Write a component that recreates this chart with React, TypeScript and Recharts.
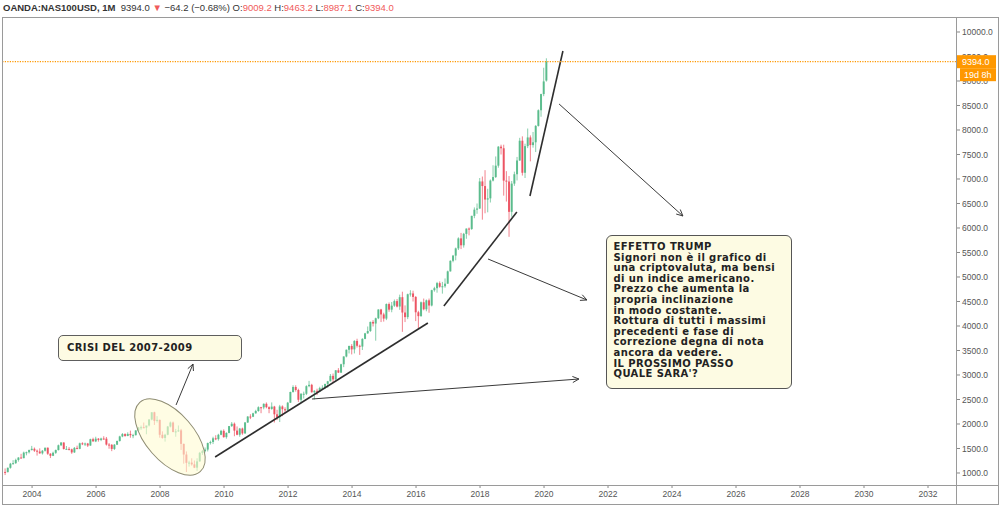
import React from "react";
import { ComposedChart, Bar, XAxis, YAxis, ReferenceLine, ReferenceDot } from "recharts";

const UP = "#53b987";
const DOWN = "#eb4d5c";
const RED_TXT = "#f05b5b";

// monthly candles, [open, high, low, close]
const y2003 = [
  [1022, 1093, 958, 1018], [1018, 1111, 1012, 1106], [1106, 1206, 1088, 1189], [1189, 1262, 1170, 1201],
  [1201, 1292, 1185, 1266], [1266, 1322, 1232, 1315], [1315, 1391, 1300, 1303], [1303, 1436, 1300, 1416],
  [1416, 1437, 1360, 1424], [1424, 1478, 1398, 1468],
];
const y2004 = [
  [1468, 1553, 1460, 1494], [1494, 1520, 1430, 1455], [1455, 1478, 1355, 1438], [1438, 1503, 1392, 1401],
  [1401, 1469, 1377, 1454], [1454, 1516, 1437, 1516], [1516, 1520, 1370, 1394], [1394, 1404, 1305, 1351],
  [1351, 1435, 1345, 1412], [1412, 1479, 1390, 1468], [1468, 1580, 1460, 1566], [1566, 1630, 1549, 1622],
];
const y2005 = [
  [1622, 1626, 1478, 1490], [1490, 1550, 1480, 1492], [1492, 1528, 1460, 1483], [1483, 1497, 1391, 1420],
  [1420, 1530, 1410, 1512], [1512, 1558, 1483, 1493], [1493, 1620, 1485, 1606], [1606, 1627, 1569, 1592],
  [1592, 1620, 1550, 1601], [1601, 1614, 1530, 1560], [1560, 1700, 1555, 1690], [1690, 1720, 1640, 1645],
];
const y2006 = [
  [1645, 1740, 1630, 1700], [1700, 1714, 1640, 1675], [1675, 1720, 1650, 1703], [1703, 1750, 1680, 1700],
  [1700, 1735, 1560, 1580], [1580, 1610, 1495, 1575], [1575, 1590, 1446, 1491], [1491, 1590, 1470, 1578],
  [1578, 1660, 1570, 1654], [1654, 1760, 1640, 1746], [1746, 1815, 1730, 1794], [1794, 1810, 1740, 1756],
];
const y2007 = [
  [1756, 1830, 1750, 1797], [1797, 1865, 1720, 1771], [1771, 1800, 1710, 1772], [1772, 1875, 1765, 1868],
  [1868, 1935, 1850, 1929], [1929, 1968, 1880, 1934], [1934, 2030, 1915, 1926], [1926, 1960, 1790, 1970],
  [1970, 2100, 1950, 2091], [2091, 2240, 2075, 2239], [2239, 2250, 1980, 2063], [2063, 2160, 2030, 2084],
];
const y2008 = [
  [2084, 2090, 1720, 1780], [1780, 1850, 1700, 1715], [1715, 1800, 1640, 1781], [1781, 1960, 1770, 1948],
  [1948, 2050, 1930, 2030], [2030, 2050, 1830, 1837], [1837, 1900, 1740, 1849], [1849, 1970, 1840, 1870],
  [1870, 1900, 1470, 1594], [1594, 1600, 1190, 1377], [1377, 1440, 1020, 1208], [1208, 1250, 1130, 1212],
];
const y2009 = [
  [1212, 1300, 1150, 1176], [1176, 1255, 1100, 1109], [1109, 1300, 1043, 1237], [1237, 1430, 1230, 1411],
  [1411, 1470, 1370, 1445], [1445, 1520, 1420, 1478], [1478, 1620, 1440, 1611], [1611, 1660, 1580, 1633],
  [1633, 1740, 1590, 1708], [1708, 1770, 1670, 1691], [1691, 1800, 1660, 1780], [1780, 1880, 1770, 1860],
];
const y2010 = [
  [1860, 1890, 1720, 1732], [1732, 1830, 1700, 1818], [1818, 1960, 1810, 1957], [1957, 2040, 1940, 2005],
  [2005, 2030, 1750, 1865], [1865, 1950, 1770, 1781], [1781, 1920, 1740, 1907], [1907, 1925, 1780, 1808],
  [1808, 2040, 1800, 2031], [2031, 2160, 2020, 2152], [2152, 2200, 2100, 2148], [2148, 2230, 2140, 2218],
];
const y2011 = [
  [2218, 2290, 2210, 2265], [2265, 2360, 2250, 2342], [2342, 2350, 2220, 2338], [2338, 2420, 2300, 2412],
  [2412, 2440, 2320, 2343], [2343, 2360, 2220, 2307], [2307, 2440, 2290, 2355], [2355, 2370, 2030, 2198],
  [2198, 2290, 2080, 2139], [2139, 2390, 2040, 2358], [2358, 2380, 2160, 2302], [2302, 2340, 2220, 2278],
];
const y2012 = [
  [2278, 2450, 2270, 2435], [2435, 2660, 2430, 2653], [2653, 2790, 2640, 2755], [2755, 2790, 2660, 2694],
  [2694, 2720, 2450, 2494], [2494, 2630, 2440, 2616], [2616, 2660, 2520, 2617], [2617, 2790, 2590, 2772],
  [2772, 2880, 2750, 2799], [2799, 2820, 2640, 2648], [2648, 2690, 2500, 2677], [2677, 2720, 2590, 2661],
];
const y2013 = [
  [2661, 2760, 2660, 2732], [2732, 2790, 2700, 2739], [2739, 2820, 2720, 2818], [2818, 2880, 2740, 2871],
  [2871, 3020, 2870, 2982], [2982, 3030, 2850, 2910], [2910, 3100, 2900, 3096], [3096, 3140, 3040, 3049],
  [3049, 3230, 3040, 3219], [3219, 3380, 3160, 3378], [3378, 3520, 3360, 3515], [3515, 3600, 3440, 3592],
];
const y2014 = [
  [3592, 3630, 3420, 3523], [3523, 3710, 3440, 3695], [3695, 3740, 3560, 3596], [3596, 3620, 3410, 3580],
  [3580, 3750, 3510, 3737], [3737, 3860, 3730, 3850], [3850, 3990, 3840, 3897], [3897, 4090, 3880, 4083],
  [4083, 4120, 3990, 4050], [4050, 4170, 3700, 4158], [4158, 4340, 4140, 4337], [4337, 4350, 4080, 4236],
];
const y2015 = [
  [4236, 4270, 4090, 4151], [4151, 4460, 4120, 4448], [4448, 4480, 4290, 4334], [4334, 4490, 4280, 4415],
  [4415, 4540, 4390, 4508], [4508, 4550, 4380, 4397], [4397, 4640, 4330, 4588], [4588, 4700, 3880, 4275],
  [4275, 4420, 4080, 4181], [4181, 4660, 4140, 4648], [4648, 4730, 4600, 4664], [4664, 4720, 4500, 4593],
];
const y2016 = [
  [4593, 4610, 4100, 4280], [4280, 4310, 3950, 4201], [4201, 4500, 4190, 4484], [4484, 4560, 4320, 4341],
  [4341, 4540, 4300, 4524], [4524, 4560, 4270, 4418], [4418, 4740, 4400, 4731], [4731, 4800, 4700, 4771],
  [4771, 4900, 4680, 4875], [4875, 4910, 4780, 4801], [4801, 4900, 4660, 4811], [4811, 4970, 4780, 4864],
];
const y2017 = [
  [4864, 5130, 4860, 5115], [5115, 5340, 5110, 5330], [5330, 5450, 5300, 5436], [5436, 5600, 5340, 5584],
  [5584, 5810, 5550, 5788], [5788, 5900, 5570, 5647], [5647, 5900, 5600, 5880], [5880, 5990, 5780, 5988],
  [5988, 6010, 5850, 5980], [5980, 6250, 5960, 6248], [6248, 6420, 6200, 6374], [6374, 6500, 6290, 6397],
];
const y2018 = [
  [6397, 7020, 6390, 6950], [6950, 7050, 6170, 6856], [6856, 7180, 6300, 6581], [6581, 6800, 6320, 6605],
  [6605, 6990, 6520, 6968], [6968, 7280, 6950, 7040], [7040, 7460, 7020, 7272], [7272, 7670, 7230, 7660],
  [7660, 7700, 7500, 7627], [7627, 7700, 6660, 6967], [6967, 7160, 6540, 6949], [6949, 7060, 5820, 6330],
];
const y2019 = [
  [6330, 6960, 6230, 6906], [6906, 7150, 6860, 7097], [7097, 7450, 6970, 7378], [7378, 7840, 7370, 7781],
  [7781, 7870, 7070, 7127], [7127, 7720, 7020, 7671], [7671, 8030, 7630, 7848], [7848, 7890, 7360, 7692],
  [7692, 7960, 7640, 7749], [7749, 8100, 7550, 8083], [8083, 8420, 8070, 8403], [8403, 8740, 8270, 8733],
];
const y2020 = [
  [8733, 9270, 8690, 8991], [9009.2, 9463.2, 8987.1, 9394.0],
];

// [year, index of first month, candles]
const yearBlocks: [number, number, number[][]][] = [
  [2003, 2, y2003], [2004, 0, y2004], [2005, 0, y2005], [2006, 0, y2006], [2007, 0, y2007],
  [2008, 0, y2008], [2009, 0, y2009], [2010, 0, y2010], [2011, 0, y2011], [2012, 0, y2012],
  [2013, 0, y2013], [2014, 0, y2014], [2015, 0, y2015], [2016, 0, y2016], [2017, 0, y2017],
  [2018, 0, y2018], [2019, 0, y2019], [2020, 0, y2020],
];

const yearTicks = [2004, 2006, 2008, 2010, 2012, 2014, 2016, 2018, 2020, 2022, 2024, 2026, 2028, 2030, 2032];
const priceTicks = [1000, 1500, 2000, 2500, 3000, 3500, 4000, 4500, 5000, 5500, 6000, 6500, 7000, 7500, 8000, 8500, 9000, 9500, 10000];

const lastPrice = 9394.0;
const timeLeft = "19d 8h";

// drawings, in [year, price]
const trendLines = [
  [[2009.72, 1327], [2016.37, 4061]],
  [[2016.87, 4408], [2019.15, 6327]],
  [[2019.56, 6653], [2020.59, 9612]],
];
const arrows = [
  [[2020.47, 8531], [2024.34, 6245]],
  [[2018.25, 5367], [2021.34, 4531]],
  [[2012.75, 2510], [2021.09, 2918]],
  [[2008.5, 2388], [2009.03, 3224]],
];
const crisisCenter = [2008.31, 1735];

const crisisNote = "CRISI DEL 2007-2009";
const trumpNote = [
  "EFFETTO TRUMP",
  "Signori non è il grafico di",
  "una criptovaluta, ma bensi",
  "di un indice americano.",
  "Prezzo che aumenta la",
  "propria inclinazione",
  "in modo costante.",
  "Rottura di tutti i massimi",
  "precedenti e fase di",
  "correzione degna di nota",
  "ancora da vedere.",
  "IL PROSSIMO PASSO",
  "QUALE SARA'?",
];

const rows = yearBlocks.flatMap(([year, first, block]) =>
  block.map(([open, high, low, close], i) => ({
    t: year + (first + i) / 12,
    open,
    high,
    low,
    close,
    range: [low, high],
  }))
);

function Candle(props: any) {
  const { x, y, width, height, payload } = props;
  if (!payload) return null;
  const { open, close, high, low } = payload;
  const color = close >= open ? UP : DOWN;
  const top = Math.min(y, y + height);
  const h = Math.abs(height);
  const k = h / (high - low);
  const yo = top + (high - open) * k;
  const yc = top + (high - close) * k;
  const cx = x + width / 2;
  return (
    <g>
      <line x1={cx} x2={cx} y1={top} y2={top + h} stroke={color} strokeOpacity={0.7} strokeWidth={1} />
      <rect x={x} y={Math.min(yo, yc)} width={width} height={Math.max(Math.abs(yo - yc), 1)} fill={color} fillOpacity={0.9} />
    </g>
  );
}

function ArrowShape(props: any) {
  const { x1, y1, x2, y2 } = props;
  const ang = Math.atan2(y2 - y1, x2 - x1);
  const len = 7;
  const spread = 0.45;
  const ax = x2 - len * Math.cos(ang - spread);
  const ay = y2 - len * Math.sin(ang - spread);
  const bx = x2 - len * Math.cos(ang + spread);
  const by = y2 - len * Math.sin(ang + spread);
  return (
    <g stroke="#3a3a3a" strokeWidth={1} fill="none">
      <line x1={x1} y1={y1} x2={x2} y2={y2} />
      <path d={`M${ax},${ay} L${x2},${y2} L${bx},${by}`} />
    </g>
  );
}

function CrisisEllipse(props: any) {
  const { cx, cy } = props;
  return (
    <ellipse
      cx={cx}
      cy={cy}
      rx={46}
      ry={24}
      transform={`rotate(49 ${cx} ${cy})`}
      fill="#fffbd2"
      fillOpacity={0.6}
      stroke="#8e8c72"
      strokeWidth={1}
    />
  );
}

function PriceLine(props: any) {
  const { x1, y1, x2, y2 } = props;
  return <line x1={x1} y1={y1} x2={x2} y2={y2} stroke="#ff9800" strokeWidth={1.2} strokeDasharray="1.2 1.3" />;
}

function PriceTag(props: any) {
  const vb = props.viewBox || {};
  const x = (vb.x || 0) + (vb.width || 0) + 1;
  const y = vb.y || 0;
  return (
    <g>
      <rect x={x} y={y - 6.5} width={39} height={13} fill="#ff9800" />
      <text x={x + 5} y={y + 3.5} fill="#fff" fontSize={9} fontFamily="Liberation Sans, Arial, sans-serif">
        {lastPrice.toFixed(1)}
      </text>
      <rect x={x + 3} y={y + 6.5} width={36} height={13} fill="#ff9800" />
      <text x={x + 7} y={y + 16.5} fill="#fff" fontSize={9} fontFamily="Liberation Sans, Arial, sans-serif">
        {timeLeft}
      </text>
    </g>
  );
}

const noteFont = "'DejaVu Sans', Verdana, sans-serif";

export default function App() {
  return (
    <div
      style={{
        position: "fixed",
        left: 0,
        top: 0,
        width: 1003,
        height: 512,
        background: "#fff",
        overflow: "hidden",
        fontFamily: "'Liberation Sans', Arial, sans-serif",
      }}
    >
      <div style={{ position: "absolute", left: 3, top: 2, fontSize: 9.5, lineHeight: "12px", color: "#333", whiteSpace: "nowrap" }}>
        <b>OANDA:NAS100USD, 1M</b>&nbsp; 9394.0 <span style={{ color: RED_TXT }}>▼</span> −64.2 (−0.68%) O:
        <span style={{ color: RED_TXT }}>9009.2</span> H:<span style={{ color: RED_TXT }}>9463.2</span> L:
        <span style={{ color: RED_TXT }}>8987.1</span> C:<span style={{ color: RED_TXT }}>9394.0</span>
      </div>

      <div style={{ position: "absolute", left: 0, top: 0 }}>
        <ComposedChart width={1000} height={505} data={rows} margin={{ top: 17, right: 0, bottom: 0, left: 2 }}>
          <XAxis
            type="number"
            dataKey="t"
            domain={[2003.06, 2032.875]}
            ticks={yearTicks}
            interval={0}
            allowDataOverflow
            axisLine={false}
            tickLine={{ stroke: "#888" }}
            tickSize={3}
            tickMargin={3}
            height={20}
            tick={{ fontSize: 8.5, fill: "#555" }}
          />
          <YAxis
            orientation="right"
            type="number"
            domain={[755, 10306]}
            ticks={priceTicks}
            interval={0}
            allowDataOverflow
            axisLine={false}
            tickLine={{ stroke: "#888" }}
            tickSize={4}
            tickMargin={2}
            width={44}
            tick={{ fontSize: 8.5, fill: "#555" }}
            tickFormatter={(v: number) => v.toFixed(1)}
          />
          <Bar dataKey="range" barSize={2} shape={Candle} isAnimationActive={false} />
          <ReferenceDot x={crisisCenter[0]} y={crisisCenter[1]} r={1} shape={CrisisEllipse} />
          {trendLines.map(([a, b], i) => (
            <ReferenceLine
              key={`tl-${i}`}
              segment={[{ x: a[0], y: a[1] }, { x: b[0], y: b[1] }]}
              stroke="#2e2e2e"
              strokeWidth={1.6}
            />
          ))}
          {arrows.map(([a, b], i) => (
            <ReferenceLine
              key={`ar-${i}`}
              segment={[{ x: a[0], y: a[1] }, { x: b[0], y: b[1] }]}
              stroke="#3a3a3a"
              shape={ArrowShape}
            />
          ))}
          <ReferenceLine
            y={lastPrice}
            stroke="#ff9800"
            shape={PriceLine}
            label={<PriceTag />}
            {...({ zIndex: 2000 } as any)}
          />
        </ComposedChart>
      </div>

      {/* frame */}
      <div style={{ position: "absolute", left: 2, top: 17, width: 997, height: 488, border: "1px solid #9a9a9a", boxSizing: "border-box", pointerEvents: "none" }} />
      <div style={{ position: "absolute", left: 2, top: 485, width: 997, height: 1, background: "#9a9a9a" }} />
      <div style={{ position: "absolute", left: 956, top: 17, width: 1, height: 488, background: "#9a9a9a" }} />

      <div
        style={{
          position: "absolute",
          left: 58,
          top: 335,
          width: 184,
          height: 26,
          boxSizing: "border-box",
          border: "1.5px solid #5e5e5e",
          borderRadius: 5,
          background: "#fdfbe3",
          fontFamily: noteFont,
          fontWeight: "bold",
          fontSize: 10,
          letterSpacing: 0.4,
          color: "#222",
          paddingLeft: 8,
          lineHeight: "23px",
          whiteSpace: "nowrap",
        }}
      >
        {crisisNote}
      </div>

      <div
        style={{
          position: "absolute",
          left: 606,
          top: 235,
          width: 186,
          height: 154,
          boxSizing: "border-box",
          border: "1.5px solid #555",
          borderRadius: 6,
          background: "#fdfbe3",
          fontFamily: noteFont,
          fontWeight: "bold",
          fontSize: 10,
          letterSpacing: 0.4,
          color: "#222",
          padding: "6px 0 0 6.5px",
          lineHeight: "10.6px",
          whiteSpace: "nowrap",
        }}
      >
        {trumpNote.map((l, i) => (
          <div key={i}>{l}</div>
        ))}
      </div>
    </div>
  );
}
